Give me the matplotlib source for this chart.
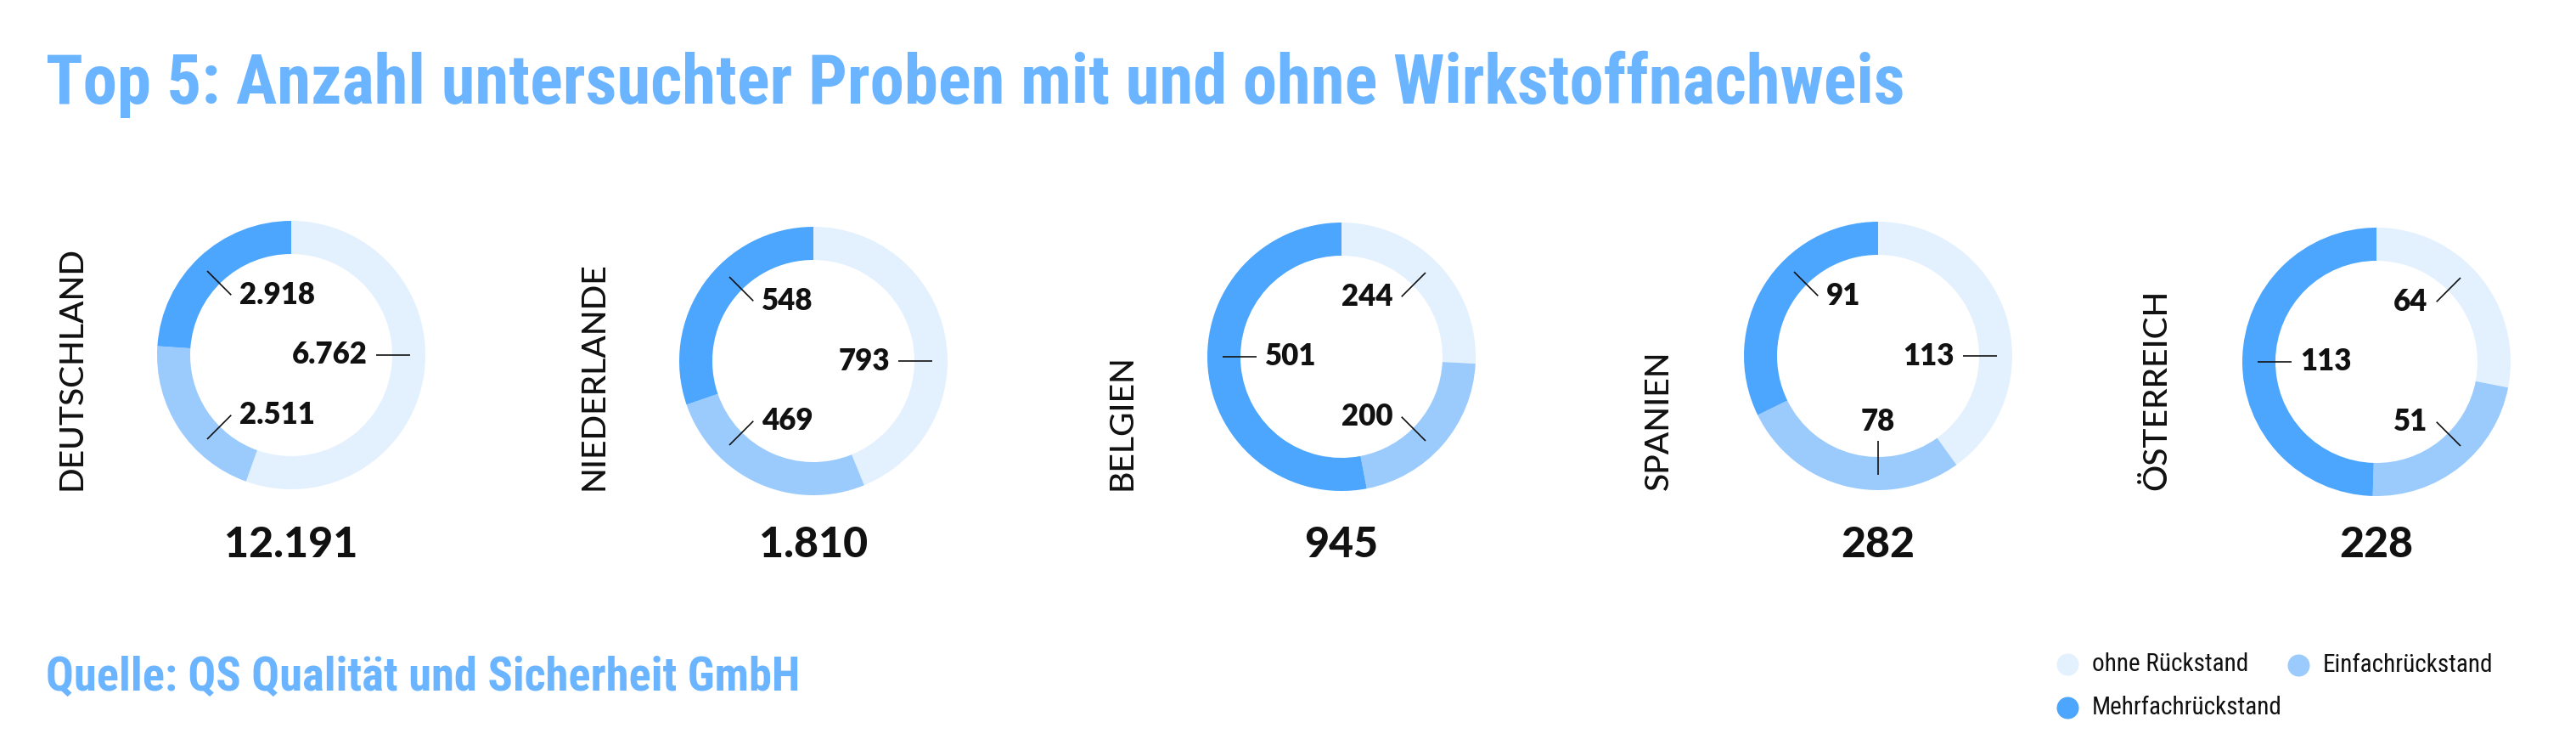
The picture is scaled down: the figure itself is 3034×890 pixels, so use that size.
import numpy as np
import matplotlib
matplotlib.use('Agg')
import matplotlib.pyplot as plt
from matplotlib import font_manager as fm

# canvas in pixels, axes units == pixels (y from bottom)
W, H = 3034, 890

# data
countries = ['DEUTSCHLAND', 'NIEDERLANDE', 'BELGIEN', 'SPANIEN', 'ÖSTERREICH']
ohne = [6762, 793, 244, 113, 64]
einfach = [2511, 469, 200, 78, 51]
mehr = [2918, 548, 501, 91, 113]
categories = ['ohne Rückstand', 'Einfachrückstand', 'Mehrfachrückstand']

title = 'Top 5: Anzahl untersuchter Proben mit und ohne Wirkstoffnachweis'
source = 'Quelle: QS Qualität und Sicherheit GmbH'

# layout
panel_x = [343, 958, 1580, 2212, 2799]
panel_y = [418, 425, 420, 419, 426]   # pixels from top
r_out = 158
ring = 39
colors = ['#e3f1fe', '#9bcbfd', '#4da6fe']
blue = '#6bb4ff'
ink = '#111111'

# fonts (narrow cut first if it exists)
head_font = ['Liberation Sans Narrow', 'Roboto Condensed', 'Lato', 'DejaVu Sans']
body_font = ['Lato', 'DejaVu Sans']


def fp(family, weight, size):
    return fm.FontProperties(family=family, weight=weight, size=size)


def de(v):
    return f'{v:,}'.replace(',', '.')


fig = plt.figure(figsize=(W / 100, H / 100), dpi=100)
ax = fig.add_axes([0, 0, 1, 1])
renderer = fig.canvas.get_renderer()


def fit(t, target):
    bb = t.get_window_extent(renderer)
    t.set_fontsize(t.get_fontsize() * target / bb.width)
    return t


for i, name in enumerate(countries):
    vals = [ohne[i], einfach[i], mehr[i]]
    cx, cy = panel_x[i], H - panel_y[i]
    wedges, _ = ax.pie(vals, colors=colors, startangle=90, counterclock=False,
                       radius=r_out, center=(cx, cy), frame=True,
                       wedgeprops=dict(width=ring, linewidth=0))

    # value labels: leader line at the segment middle, snapped to 45 deg
    for w, v in zip(wedges, vals):
        mid = (w.theta1 + w.theta2) / 2
        a = np.deg2rad(45 * round(mid / 45))
        c, s = np.cos(a), np.sin(a)
        x0, y0 = cx + 140 * c, cy + 140 * s
        x1, y1 = cx + 100 * c, cy + 100 * s
        ax.plot([x0, x1], [y0, y1], color=ink, lw=1.2, solid_capstyle='butt')
        lab = fp(body_font, 'heavy', 25)
        if c > 0.3:
            ax.text(x1 - 10, y1, de(v), ha='right', va='center',
                    fontproperties=lab, color=ink)
        elif c < -0.3:
            ax.text(x1 + 10, y1, de(v), ha='left', va='center',
                    fontproperties=lab, color=ink)
        else:
            ax.text(x1, y1 + (6 if s < 0 else -6), de(v), ha='center',
                    va='bottom' if s < 0 else 'top',
                    fontproperties=lab, color=ink)

    ax.text(cx, H - 641, de(sum(vals)), ha='center', va='center',
            fontproperties=fp(body_font, 'black', 36), color=ink)
    ax.text(cx - 258, H - 577, name, rotation=90, ha='center', va='bottom',
            fontproperties=fp(body_font, 'medium', 28), color=ink)

# title and source
t = ax.text(54, H - 122, title, ha='left', va='baseline',
            fontproperties=fp(head_font, 'bold', 53), color=blue)
fit(t, 2192)
t = ax.text(54, H - 813, source, ha='left', va='baseline',
            fontproperties=fp(head_font, 'bold', 35), color=blue)
fit(t, 888)

# legend
leg_dot = [(2435, 782), (2707, 783), (2435, 833)]
items = []
for (lx, ly), lab, col in zip(leg_dot, categories, colors):
    ax.scatter([lx], [H - ly], s=26 ** 2 * 0.52, color=col, linewidths=0)
    lt = ax.text(lx + 29, H - ly, lab, ha='left', va='center',
                 fontproperties=fp(head_font, 'normal', 20), color=ink)
    items.append(lt)
fit(items[2], 224)
for lt in items[:2]:
    lt.set_fontsize(items[2].get_fontsize())

ax.set_xlim(0, W)
ax.set_ylim(0, H)
ax.set_aspect('auto')
ax.axis('off')

fig.savefig('out.png', dpi=100, facecolor='white')
